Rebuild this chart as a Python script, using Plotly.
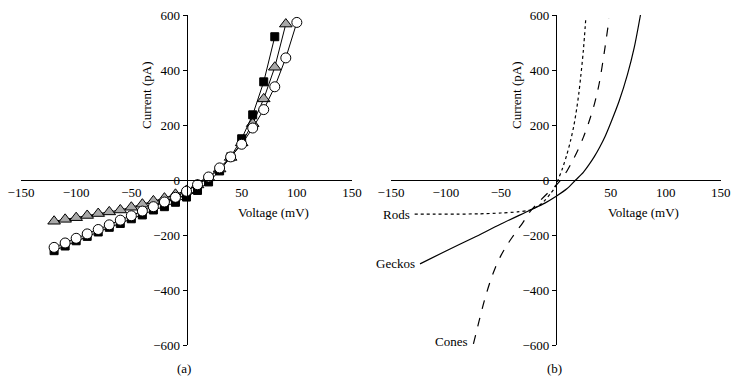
import plotly.graph_objects as go

# ---------- Panel (a) data ----------
sq_v = [-120, -110, -100, -90, -80, -70, -60, -50, -40, -30, -20, -10, 0, 10, 20, 30, 40, 50, 60, 70, 80]
sq_i = [-257, -240, -221, -205, -189, -172, -158, -141, -127, -109, -97, -81, -62, -38, -7, 33, 84, 150, 237, 357, 521]

tri_v = [-120, -110, -100, -90, -80, -70, -60, -50, -40, -30, -20, -10, 0, 10, 20, 30, 40, 50, 60, 70, 80, 90]
tri_i = [-150, -143, -137, -129, -122, -116, -109, -99, -88, -76, -66, -52, -38, -18, 8, 40, 82, 135, 205, 295, 410, 567]

cir_v = [-120, -110, -100, -90, -80, -70, -60, -50, -40, -30, -20, -10, 0, 10, 20, 30, 40, 50, 60, 70, 80, 90, 100]
cir_i = [-245, -229, -212, -196, -180, -163, -146, -130, -113, -97, -80, -63, -41, -17, 11, 44, 84, 130, 189, 256, 339, 444, 573]

# ---------- Panel (b) data ----------
rods_v = [-128.5, -110, -90, -70, -50, -35, -23.5, -15, -10, -5, 0, 2, 6, 10, 13.5, 16.5, 19, 21, 22.6, 25, 27.3]
rods_i = [-124, -124, -124, -123, -120, -116, -109, -92, -74, -50, -22, 0, 42, 92, 145, 200, 260, 318, 375, 470, 590]

geckos_v = [-123.6, -100, -75, -50, -23.5, -10, 0, 10, 18, 25, 30, 35, 40, 45, 50, 57.6, 65.2, 71.3, 77]
geckos_i = [-305, -258, -210, -160, -110, -84, -60, -32, 0, 28, 55, 85, 120, 160, 208, 287, 384, 481, 600]

cones_v = [-75, -70, -65, -60, -55, -50, -45, -40, -35, -30, -23.5, -16, -8, 0, 4.5, 10, 15, 20, 25, 30, 35, 39.4, 44, 48.5]
cones_i = [-596, -515, -438, -372, -318, -275, -240, -210, -182, -155, -115, -82, -50, -20, 0, 32, 68, 108, 155, 210, 275, 350, 462, 588]

x_ticks = [-150, -100, -50, 50, 100, 150]
y_ticks = [-600, -400, -200, 0, 200, 400, 600]


def lab(v):
    return str(v).replace("-", "\u2212")


FONT = "Liberation Serif, Times New Roman, serif"
W, H = 740, 383

fig = go.Figure()

# Panel (a) traces: triangles, squares, circles (circles on top)
fig.add_trace(go.Scatter(x=tri_v, y=tri_i, mode="lines+markers", xaxis="x", yaxis="y",
                         line=dict(color="black", width=1),
                         marker=dict(symbol="triangle-up", size=11, color="#a8a8a8",
                                     line=dict(color="black", width=1)), showlegend=False))
fig.add_trace(go.Scatter(x=sq_v, y=sq_i, mode="lines+markers", xaxis="x", yaxis="y",
                         line=dict(color="black", width=1),
                         marker=dict(symbol="square", size=8, color="black",
                                     line=dict(color="black", width=1)), showlegend=False))
fig.add_trace(go.Scatter(x=cir_v, y=cir_i, mode="lines+markers", xaxis="x", yaxis="y",
                         line=dict(color="black", width=1),
                         marker=dict(symbol="circle", size=10, color="white",
                                     line=dict(color="black", width=1)), showlegend=False))

# Panel (b) traces
fig.add_trace(go.Scatter(x=rods_v, y=rods_i, mode="lines", xaxis="x2", yaxis="y2",
                         line=dict(color="black", width=1.2, dash="dot", shape="spline", smoothing=0.8),
                         showlegend=False))
fig.add_trace(go.Scatter(x=cones_v, y=cones_i, mode="lines", xaxis="x2", yaxis="y2",
                         line=dict(color="black", width=1.2, dash="dash", shape="spline", smoothing=0.8),
                         showlegend=False))
fig.add_trace(go.Scatter(x=geckos_v, y=geckos_i, mode="lines", xaxis="x2", yaxis="y2",
                         line=dict(color="black", width=1.2, shape="spline", smoothing=0.8),
                         showlegend=False))

ydom = [1 - 345 / H, 1 - 15 / H]
y0_paper = 1 - 180 / H

common_x = dict(range=[-150, 150], showgrid=False, zeroline=False, showline=True,
                linecolor="black", linewidth=1, ticks="", tickvals=x_ticks,
                ticktext=[lab(v) for v in x_ticks], anchor="free", position=y0_paper,
                automargin=False,
                tickfont=dict(family=FONT, size=13, color="black"), fixedrange=True)
common_y = dict(range=[-600, 600], domain=ydom, showgrid=False, zeroline=False, showline=True,
                linecolor="black", linewidth=1, ticks="outside", ticklen=4, tickcolor="black",
                tickvals=y_ticks, ticktext=[lab(v) for v in y_ticks], anchor="free",
                automargin=False,
                tickfont=dict(family=FONT, size=13, color="black"), fixedrange=True)

fig.update_layout(
    width=W, height=H,
    margin=dict(l=0, r=0, t=0, b=0, autoexpand=False),
    paper_bgcolor="white", plot_bgcolor="white",
    xaxis=dict(domain=[21 / W, 352 / W], **common_x),
    yaxis=dict(position=186.7 / W, **common_y),
    xaxis2=dict(domain=[391 / W, 720.7 / W], **common_x),
    yaxis2=dict(position=555.9 / W, **common_y),
)

ann_font = dict(family=FONT, size=13, color="black")
annotations = []
for xc in [146, 516]:
    annotations.append(dict(text="Current (pA)", x=xc / W, y=1 - 95 / H, xref="paper", yref="paper",
                            xanchor="center", yanchor="middle",
                            textangle=-90, showarrow=False, font=ann_font))
for xc in [273, 643.3]:
    annotations.append(dict(text="Voltage (mV)", x=xc / W, y=1 - 212 / H, xref="paper", yref="paper",
                            xanchor="center", yanchor="middle", showarrow=False, font=ann_font))
annotations.append(dict(text="(a)", x=184 / W, y=1 - 368 / H, xref="paper", yref="paper",
                        xanchor="center", yanchor="middle", showarrow=False, font=ann_font))
annotations.append(dict(text="(b)", x=554 / W, y=1 - 368 / H, xref="paper", yref="paper",
                        xanchor="center", yanchor="middle", showarrow=False, font=ann_font))
# curve labels in panel (b)
annotations.append(dict(text="Rods", x=rods_v[0] - 2, y=rods_i[0], xref="x2", yref="y2",
                        xanchor="right", yanchor="middle", showarrow=False, font=ann_font))
annotations.append(dict(text="Geckos", x=geckos_v[0] - 2.5, y=geckos_i[0], xref="x2", yref="y2",
                        xanchor="right", yanchor="middle", showarrow=False, font=ann_font))
annotations.append(dict(text="Cones", x=cones_v[0] - 3, y=cones_i[0] + 8, xref="x2", yref="y2",
                        xanchor="right", yanchor="middle", showarrow=False, font=ann_font))
fig.update_layout(annotations=annotations)

fig.write_html("out.html", config={"displayModeBar": False, "staticPlot": True},
               post_script="document.body.style.margin='0';document.body.style.overflow='hidden';")
